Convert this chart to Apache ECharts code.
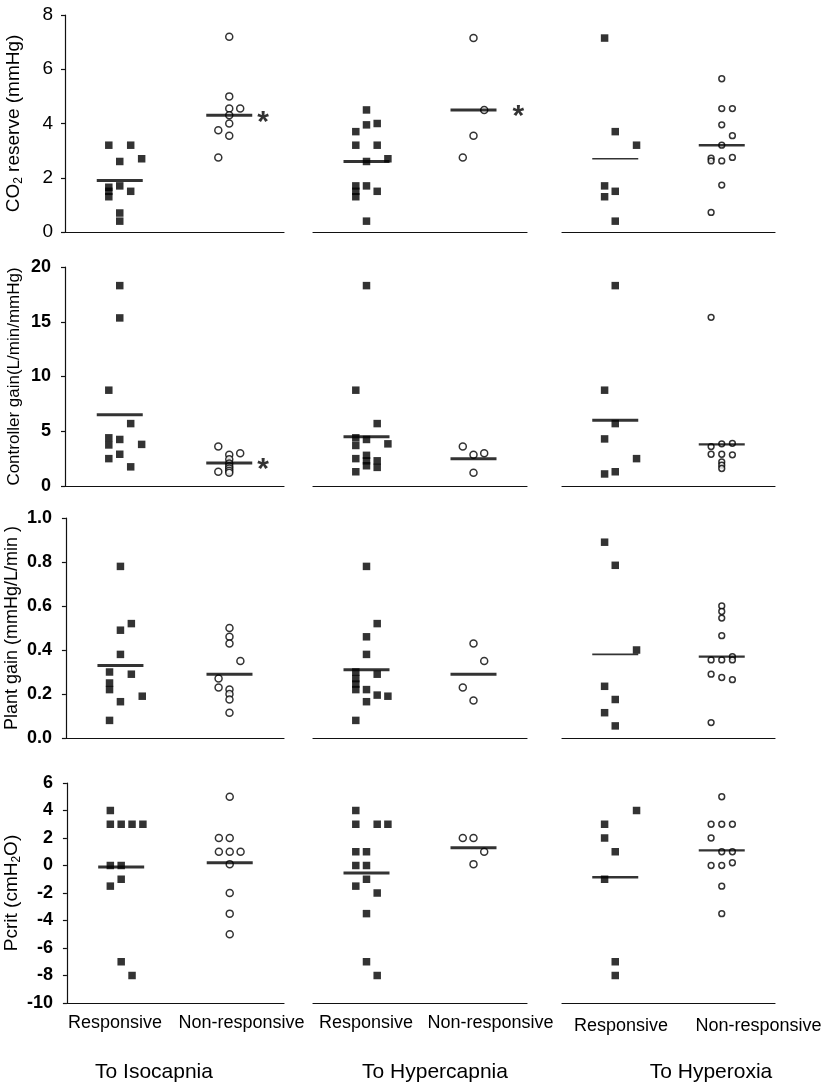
<!DOCTYPE html>
<html><head><meta charset="utf-8">
<script src="https://cdn.jsdelivr.net/npm/echarts@6/dist/echarts.min.js"></script>
<style>html,body{margin:0;padding:0;background:#fff}#c{width:830px;height:1086px}</style>
</head><body><div id="c"></div><script>
// ---------- categories / labels ----------
const categories = ['Responsive', 'Non-responsive'];
const conditions = ['To Isocapnia', 'To Hypercapnia', 'To Hyperoxia'];
const measureNames = ['CO{sub|2} reserve (mmHg)', 'Controller gain(L/min/mmHg)', 'Plant gain (mmHg/L/min )', 'Pcrit (cmH{sub|2}O)'];
const yMin = [0, 0, 0, -10];
const yMax = [8, 20, 1, 6];
const yInterval = [2, 5, 0.2, 2];

// ---------- CO2 reserve ----------
const co2IsoResp = [3.2, 3.2, 2.7, 2.6, 1.7, 1.65, 1.5, 1.3, 1.5, 0.7, 0.4];
const co2IsoRespSlot = [-1, 1, 2, 0, 0, -1, -1, -1, 1, 0, 0];
const co2IsoNon = [7.2, 5.0, 4.55, 4.55, 4.3, 4.0, 3.75, 3.55, 2.75];
const co2IsoNonSlot = [0, 0, 0, 1, 0, 0, -1, 0, -1];
const co2HcResp = [4.5, 4.0, 3.95, 3.7, 3.2, 3.2, 2.7, 2.6, 1.7, 1.5, 1.3, 1.7, 1.5, 0.4];
const co2HcRespSlot = [0, 1, 0, -1, -1, 1, 2, 0, -1, -1, -1, 0, 1, 0];
const co2HcNon = [7.15, 4.5, 3.55, 2.75];
const co2HcNonSlot = [0, 1, 0, -1];
const co2HoResp = [7.15, 3.7, 3.2, 1.7, 1.5, 1.3, 0.4];
const co2HoRespSlot = [-1, 0, 2, -1, 0, -1, 0];
const co2HoNon = [5.65, 4.55, 4.55, 3.95, 3.55, 3.2, 2.75, 2.72, 2.62, 2.62, 1.73, 0.72];
const co2HoNonSlot = [0, 0, 1, 0, 1, 0, 1, -1, -1, 0, 0, -1];
const co2Means = [1.9, 4.3, 2.6, 4.5, 2.7, 3.2];
const co2Sig = [true, true, false];

// ---------- Controller gain ----------
const cgIsoResp = [18.3, 15.35, 8.75, 5.7, 4.4, 3.75, 4.25, 3.8, 2.9, 2.5, 1.75];
const cgIsoRespSlot = [0, 0, -1, 1, -1, -1, 0, 2, 0, -1, 1];
const cgIsoNon = [3.6, 3.0, 2.85, 2.45, 2.05, 1.8, 1.6, 1.4, 1.2, 1.3];
const cgIsoNonSlot = [-1, 1, 0, 0, 0, 0, 0, 0, 0, -1];
const cgHcResp = [18.3, 8.75, 5.7, 4.4, 3.7, 4.25, 3.85, 2.5, 2.8, 2.3, 1.85, 2.3, 1.7, 1.3];
const cgHcRespSlot = [0, -1, 1, -1, -1, 0, 2, -1, 0, 0, 0, 1, 1, -1];
const cgHcNon = [3.6, 2.85, 3.0, 1.2];
const cgHcNonSlot = [-1, 0, 1, 0];
const cgHoResp = [18.3, 8.75, 5.7, 4.3, 2.5, 1.3, 1.1];
const cgHoRespSlot = [0, -1, 0, -1, 2, 0, -1];
const cgHoNon = [15.4, 3.85, 3.9, 3.6, 2.9, 2.9, 2.85, 2.2, 1.9, 1.6];
const cgHoNonSlot = [-1, 0, 1, -1, -1, 0, 1, 0, 0, 0];
const cgMeans = [6.5, 2.1, 4.5, 2.5, 6.0, 3.8];
const cgSig = [true, false, false];

// ---------- Plant gain ----------
const pgIsoResp = [0.78, 0.52, 0.49, 0.38, 0.30, 0.29, 0.25, 0.22, 0.19, 0.165, 0.08];
const pgIsoRespSlot = [0, 1, 0, 0, -1, 1, -1, -1, 2, 0, -1];
const pgIsoNon = [0.50, 0.46, 0.43, 0.35, 0.27, 0.23, 0.22, 0.20, 0.175, 0.115];
const pgIsoNonSlot = [0, 0, 0, 1, -1, -1, 0, 0, 0, 0];
const pgHcResp = [0.78, 0.52, 0.46, 0.38, 0.30, 0.27, 0.245, 0.22, 0.29, 0.22, 0.195, 0.19, 0.165, 0.08];
const pgHcRespSlot = [0, 1, 0, 0, -1, -1, -1, -1, 1, 0, 1, 2, 0, -1];
const pgHcNon = [0.43, 0.35, 0.23, 0.17];
const pgHcNonSlot = [0, 1, -1, 0];
const pgHoResp = [0.89, 0.785, 0.40, 0.235, 0.175, 0.115, 0.055];
const pgHoRespSlot = [-1, 0, 2, -1, 0, -1, 0];
const pgHoNon = [0.60, 0.575, 0.545, 0.465, 0.37, 0.355, 0.355, 0.355, 0.29, 0.275, 0.265, 0.07];
const pgHoNonSlot = [0, 0, 0, 0, 1, -1, 0, 1, -1, 0, 1, -1];
const pgMeans = [0.33, 0.29, 0.31, 0.29, 0.38, 0.37];
const pgSig = [false, false, false];

// ---------- Pcrit ----------
const pcIsoResp = [4, 3, 3, 3, 3, 0, 0, -1, -1.5, -7, -8];
const pcIsoRespSlot = [-1, -1, 0, 1, 2, -1, 0, 0, -1, 0, 1];
const pcIsoNon = [5, 2, 2, 1, 1, 1, 0.1, -2, -3.5, -5];
const pcIsoNonSlot = [0, -1, 0, -1, 0, 1, 0, 0, 0, 0];
const pcHcResp = [4, 3, 3, 3, 1, 1, 0, 0, -1, -1.5, -2, -3.5, -7, -8];
const pcHcRespSlot = [-1, -1, 1, 2, -1, 0, -1, 0, 0, -1, 1, 0, 0, 1];
const pcHcNon = [2, 2, 1, 0.1];
const pcHcNonSlot = [-1, 0, 1, 0];
const pcHoResp = [4, 3, 2, 1, -1, -7, -8];
const pcHoRespSlot = [2, -1, -1, 0, -1, 0, 0];
const pcHoNon = [5, 3, 3, 3, 2, 1, 1, 0, 0, 0.2, -1.5, -3.5];
const pcHoNonSlot = [0, -1, 0, 1, -1, 0, 1, -1, 0, 1, 0, 0];
const pcMeans = [-0.1, 0.2, -0.55, 1.3, -0.85, 1.1];
const pcSig = [false, false, false];

// ---------- assemble ----------
const rows = [
  { groups: [[co2IsoResp, co2IsoRespSlot], [co2IsoNon, co2IsoNonSlot], [co2HcResp, co2HcRespSlot], [co2HcNon, co2HcNonSlot], [co2HoResp, co2HoRespSlot], [co2HoNon, co2HoNonSlot]], means: co2Means, sig: co2Sig },
  { groups: [[cgIsoResp, cgIsoRespSlot], [cgIsoNon, cgIsoNonSlot], [cgHcResp, cgHcRespSlot], [cgHcNon, cgHcNonSlot], [cgHoResp, cgHoRespSlot], [cgHoNon, cgHoNonSlot]], means: cgMeans, sig: cgSig },
  { groups: [[pgIsoResp, pgIsoRespSlot], [pgIsoNon, pgIsoNonSlot], [pgHcResp, pgHcRespSlot], [pgHcNon, pgHcNonSlot], [pgHoResp, pgHoRespSlot], [pgHoNon, pgHoNonSlot]], means: pgMeans, sig: pgSig },
  { groups: [[pcIsoResp, pcIsoRespSlot], [pcIsoNon, pcIsoNonSlot], [pcHcResp, pcHcRespSlot], [pcHcNon, pcHcNonSlot], [pcHoResp, pcHoRespSlot], [pcHoNon, pcHoNonSlot]], means: pcMeans, sig: pcSig }
];

// layout (pixels)
const FONT = "'Liberation Sans', Arial, sans-serif";
const gridLeft = [65, 313, 562];
const gridWidth = [219, 214, 213];
const rowTop = [15, 267, 518, 783];
const rowHeight = [217, 219, 220, 220];
const groupCenter = [1, 3];
const slotStep = 0.2;
const starX = [3.62, 3.84, 3.7];
const circleSize = [7, 7, 5.8];
const meanWidth = [[3, 3, 3, 3, 1.6, 2.4], [3, 3, 3, 3, 3, 2.4], [3, 3, 3, 3, 1.6, 2.4], [3, 3, 3, 3, 2.4, 2.4]];
const nameFont = [19, 17, 18, 19];
const labelPos = [[115, 241.5], [366, 490.5], [621, 758.5]];
const labelY = [1023, 1023, 1026];
const titleX = [154, 435, 711];
const titleY = 1072;

const grid = [], xAxis = [], yAxis = [], series = [];
rows.forEach((row, r) => {
  for (let c = 0; c < 3; c++) {
    const gi = r * 3 + c;
    grid.push({ left: gridLeft[c], top: rowTop[r], width: gridWidth[c], height: rowHeight[r] });
    xAxis.push({
      gridIndex: gi, type: 'value', min: 0, max: 4,
      axisLine: { show: true, onZero: false, lineStyle: { color: '#111', width: 1.2 } },
      axisTick: { show: false }, axisLabel: { show: false }, splitLine: { show: false }
    });
    const ya = { gridIndex: gi, type: 'value', min: yMin[r], max: yMax[r], interval: yInterval[r], splitLine: { show: false } };
    if (c === 0) {
      Object.assign(ya, {
        axisLine: { show: true, onZero: false, lineStyle: { color: '#111', width: 1.2 } },
        axisTick: { show: true, length: 4, lineStyle: { color: '#111', width: 1.2 } },
        axisLabel: {
          margin: r === 0 ? 12 : 14, color: '#000', fontFamily: FONT,
          fontSize: r === 0 ? 19 : 18, fontWeight: r === 0 ? 'normal' : 'bold',
          formatter: r === 2 ? (v => v.toFixed(1)) : (v => String(Math.round(v)))
        },
        name: measureNames[r], nameLocation: 'middle', nameRotate: 90, nameGap: 40,
        nameTextStyle: {
          color: '#000', fontFamily: FONT, fontSize: nameFont[r], lineHeight: 22,
          rich: { sub: { fontFamily: FONT, fontSize: 12, lineHeight: 12, verticalAlign: 'bottom', color: '#000' } }
        }
      });
    } else {
      ya.show = false;
    }
    yAxis.push(ya);

    for (let g = 0; g < 2; g++) {
      const [vals, slots] = row.groups[c * 2 + g];
      const isResp = g === 0;
      series.push({
        type: 'scatter', xAxisIndex: gi, yAxisIndex: gi, z: 2,
        symbol: isResp ? 'rect' : 'circle',
        symbolSize: isResp ? 7.5 : circleSize[c],
        itemStyle: isResp ? { color: '#000' } : { color: '#fff', borderColor: '#000', borderWidth: 1.5 },
        data: vals.map((v, i) => [groupCenter[g] + slots[i] * slotStep, v])
      });
    }
    // mean bars
    series.push({
      type: 'scatter', xAxisIndex: gi, yAxisIndex: gi, z: 3, symbol: 'rect',
      data: [0, 1].map(g => ({
        value: [groupCenter[g], row.means[c * 2 + g]],
        symbolSize: [46, meanWidth[r][c * 2 + g]]
      })),
      itemStyle: { color: '#000' }
    });
    if (row.sig[c]) {
      series.push({
        type: 'scatter', xAxisIndex: gi, yAxisIndex: gi, z: 4, symbol: 'circle', symbolSize: 1,
        itemStyle: { color: 'rgba(0,0,0,0)' },
        label: { show: true, position: 'inside', formatter: '*', fontSize: 30, fontWeight: 'bold', fontFamily: FONT, color: '#000', offset: [0, 7] },
        data: [[starX[c], row.means[c * 2 + 1]]]
      });
    }
  }
});

const graphic = [];
for (let c = 0; c < 3; c++) {
  for (let g = 0; g < 2; g++) {
    graphic.push({ type: 'text', x: labelPos[c][g], y: labelY[c],
      style: { text: categories[g], fontSize: 18, fontFamily: FONT, fill: '#000', align: 'center', verticalAlign: 'middle' } });
  }
  graphic.push({ type: 'text', x: titleX[c], y: titleY,
    style: { text: conditions[c], fontSize: 21, fontFamily: FONT, fill: '#000', align: 'center', verticalAlign: 'middle' } });
}

const chart = echarts.init(document.getElementById('c'), null, { renderer: 'canvas' });
chart.setOption({ animation: false, backgroundColor: '#fff', grid, xAxis, yAxis, series, graphic });
</script></body></html>
